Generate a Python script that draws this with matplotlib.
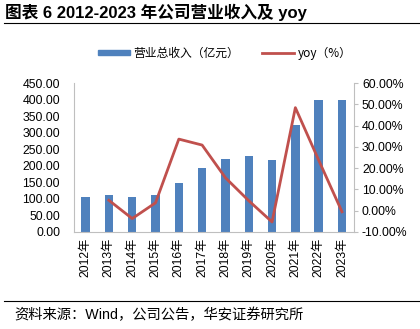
import matplotlib
matplotlib.use("Agg")
import matplotlib.pyplot as plt
from matplotlib.ticker import FuncFormatter, MultipleLocator
from matplotlib.lines import Line2D
from matplotlib.patches import Patch

plt.rcParams['font.family'] = ['Liberation Sans', 'Noto Sans CJK SC', 'DejaVu Sans']

years = ["2012年", "2013年", "2014年", "2015年", "2016年", "2017年",
         "2018年", "2019年", "2020年", "2021年", "2022年", "2023年"]
revenue = [106, 111, 107, 111, 147, 192, 220, 230, 219, 323, 400, 398]
yoy_years = years[1:]
yoy = [4.9, -3.7, 3.7, 33.7, 30.9, 15.5, 4.7, -5.3, 48.5, 23.8, -0.5]

bar_color = "#4f81bd"
line_color = "#c0504d"
axis_color = "#bfbfbf"

fig = plt.figure(figsize=(4.2, 3.29), dpi=100)
ax = fig.add_axes([0.176, 0.295, 0.666, 0.452])
ax2 = ax.twinx()

x = list(range(len(years)))
ax.bar(x, revenue, width=0.36, color=bar_color, zorder=2)
yx = [years.index(y) for y in yoy_years]
ax2.plot(yx, yoy, color=line_color, linewidth=2, zorder=3)

ax.set_xlim(-0.5, len(years) - 0.5)
ax.set_ylim(0, 450)
ax.yaxis.set_major_locator(MultipleLocator(50))
ax.yaxis.set_major_formatter(FuncFormatter(lambda v, p: f"{v:.2f}"))
ax2.set_ylim(-10, 60)
ax2.yaxis.set_major_locator(MultipleLocator(10))
ax2.yaxis.set_major_formatter(FuncFormatter(lambda v, p: f"{v:.2f}%"))

ax.set_xticks(x)
ax.set_xticklabels(years, rotation=90, fontsize=8.8)
ax.tick_params(axis='x', length=0, pad=4)
ax.tick_params(axis='y', length=0, labelsize=8.8, pad=10)
ax2.tick_params(axis='y', length=3, color=axis_color, labelsize=8.8, pad=3)

for a in (ax, ax2):
    for s in a.spines.values():
        s.set_visible(False)
ax.spines['left'].set_visible(True)
ax.spines['left'].set_color(axis_color)
ax.spines['bottom'].set_visible(True)
ax.spines['bottom'].set_color(axis_color)
ax2.spines['right'].set_visible(True)
ax2.spines['right'].set_color(axis_color)
ax2.set_zorder(ax.get_zorder() + 1)
ax2.patch.set_visible(False)

handles = [Patch(color=bar_color), Line2D([], [], color=line_color, linewidth=2)]
labels = ["营业总收入（亿元）", "yoy（%）"]
fig.legend(handles, labels, loc='center', bbox_to_anchor=(0.535, 0.838), ncol=2,
           frameon=False, handlelength=2.7, handleheight=0.35,
           columnspacing=1.9, handletextpad=0.35,
           prop={'family': ['Noto Sans CJK SC'], 'size': 8.5})

fig.text(0.012, 0.962, "图表 6 2012-2023 年公司营业收入及 yoy", fontsize=12,
         fontweight='bold', va='center', ha='left',
         family=['Liberation Sans', 'Noto Sans CJK SC'])
fig.add_artist(Line2D([0.01, 1.0], [0.93, 0.93], color='black', linewidth=0.8))
fig.add_artist(Line2D([0.01, 1.0], [0.085, 0.085], color='black', linewidth=0.8))
fig.text(0.033, 0.042, "资料来源：Wind，公司公告，华安证券研究所", fontsize=10.3,
         va='center', ha='left', family=['Liberation Sans', 'Noto Sans CJK SC'])

fig.savefig("out.png", dpi=100)
